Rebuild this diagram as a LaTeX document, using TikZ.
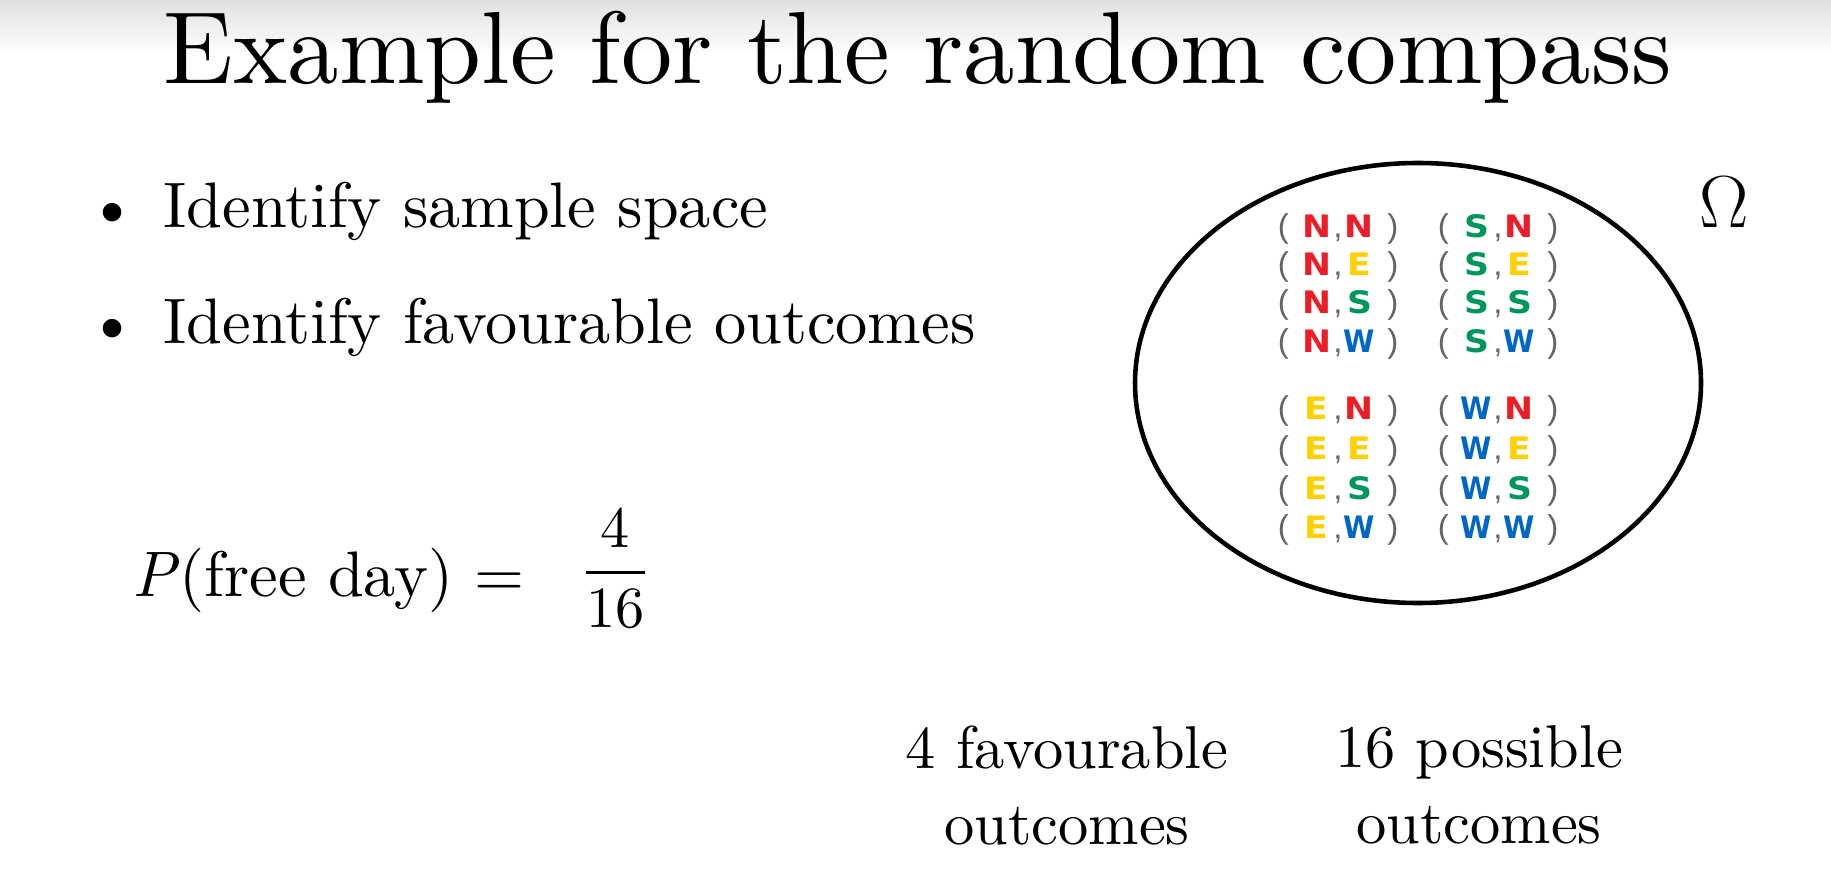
\RequirePackage{fix-cm}
\documentclass[tikz,border=0pt]{standalone}
\usepackage{amsmath}
\usepackage{graphicx}
\usepackage{fontspec}
\setmainfont{lmroman10-regular.otf}[
    ItalicFont=lmroman10-italic.otf,
    BoldFont=lmroman10-bold.otf]
\newfontfamily\compassfont{DejaVu Sans}[FakeStretch=1.12]
\newfontfamily\parenfont{Liberation Sans}
\usepackage{xcolor}
\definecolor{compass-n}{RGB}{235,30,40}
\definecolor{compass-e}{RGB}{255,208,0}
\definecolor{compass-s}{RGB}{0,150,92}
\definecolor{compass-w}{RGB}{0,102,200}
\definecolor{paren-gray}{RGB}{100,100,100}
\usepackage{tikz}
\usetikzlibrary{shapes.geometric,positioning}

% Compass letters and outcome pairs
\newcommand{\pmark}[1]{{\parenfont\mdseries\fontsize{9.4}{11}\selectfont\color{paren-gray}#1}}
\newcommand{\dirN}{\makebox[8.6pt]{\textcolor{compass-n}{N}}}
\newcommand{\dirE}{\makebox[8.6pt]{\textcolor{compass-e}{E}}}
\newcommand{\dirS}{\makebox[8.6pt]{\textcolor{compass-s}{S}}}
\newcommand{\dirW}{\makebox[8.6pt]{\textcolor{compass-w}{\scalebox{0.82}[1]{W}}}}
\newcommand{\pair}[2]{\pmark{(}\hspace{3.6pt}#1\hspace{0.5pt}\pmark{,}\hspace{0.5pt}#2\hspace{3.6pt}\pmark{)}}

\begin{document}
\begin{tikzpicture}[
    every node/.style={inner sep=0pt},
    body/.style={font=\fontsize{18.3}{22}\selectfont},
    outcome/.style={font=\compassfont\bfseries\fontsize{8.8}{11}\selectfont, anchor=base}
]

% Canvas
\useasboundingbox (0,0) rectangle (18.31,-8.90);
\shade[top color=black!12, bottom color=white] (0,0) rectangle (18.31,-0.55);

% Title
\node[font=\fontsize{29.2}{35}\selectfont, anchor=base west] (title) at (1.63,-0.84)
    {Example for the random compass};

% Steps
\node[body, anchor=base west] (item1) at (1.63,-2.28) {Identify sample space};
\node[body, anchor=base west] (item2) at (1.63,-3.44) {Identify favourable outcomes};
\node[body, anchor=base] (dot1) at ([xshift=-0.5cm]item1.base west) {\textbullet};
\node[body, anchor=base] (dot2) at ([xshift=-0.5cm]item2.base west) {\textbullet};

% Probability
\node[body, anchor=base west] (prob) at (1.32,-5.96) {\textit{P}(free day) =};
\node[font=\fontsize{16.6}{19}\selectfont, base right=0.56cm of prob, yshift=0.09cm] (ratio)
    {$\dfrac{\text{4}}{\text{16}}$};

% Sample space
\node[
    draw,
    ellipse,
    line width=1.3pt,
    minimum width=5.66cm,
    minimum height=4.40cm
] (space) at (14.18,-3.83) {};
\node[font=\fontsize{21}{25}\selectfont, anchor=base] (omega)
    at ([xshift=0.21cm, yshift=1.55cm]space.east) {$\Omega$};

% First letter N and E
\node[outcome] (nn) at ([xshift=-0.8cm, yshift=1.45cm]space.center) {\pair{\dirN}{\dirN}};
\node[outcome] (ne) at ([xshift=-0.8cm, yshift=1.07cm]space.center) {\pair{\dirN}{\dirE}};
\node[outcome] (ns) at ([xshift=-0.8cm, yshift=0.69cm]space.center) {\pair{\dirN}{\dirS}};
\node[outcome] (nw) at ([xshift=-0.8cm, yshift=0.30cm]space.center) {\pair{\dirN}{\dirW}};
\node[outcome] (en) at ([xshift=-0.8cm, yshift=-0.37cm]space.center) {\pair{\dirE}{\dirN}};
\node[outcome] (ee) at ([xshift=-0.8cm, yshift=-0.77cm]space.center) {\pair{\dirE}{\dirE}};
\node[outcome] (es) at ([xshift=-0.8cm, yshift=-1.17cm]space.center) {\pair{\dirE}{\dirS}};
\node[outcome] (ew) at ([xshift=-0.8cm, yshift=-1.55cm]space.center) {\pair{\dirE}{\dirW}};

% First letter S and W
\node[outcome] (sn) at ([xshift=0.8cm, yshift=1.45cm]space.center) {\pair{\dirS}{\dirN}};
\node[outcome] (se) at ([xshift=0.8cm, yshift=1.07cm]space.center) {\pair{\dirS}{\dirE}};
\node[outcome] (ss) at ([xshift=0.8cm, yshift=0.69cm]space.center) {\pair{\dirS}{\dirS}};
\node[outcome] (sw) at ([xshift=0.8cm, yshift=0.30cm]space.center) {\pair{\dirS}{\dirW}};
\node[outcome] (wn) at ([xshift=0.8cm, yshift=-0.37cm]space.center) {\pair{\dirW}{\dirN}};
\node[outcome] (we) at ([xshift=0.8cm, yshift=-0.77cm]space.center) {\pair{\dirW}{\dirE}};
\node[outcome] (ws) at ([xshift=0.8cm, yshift=-1.17cm]space.center) {\pair{\dirW}{\dirS}};
\node[outcome] (ww) at ([xshift=0.8cm, yshift=-1.55cm]space.center) {\pair{\dirW}{\dirW}};

% Counts
\node[font=\fontsize{17.2}{21.6}\selectfont, align=center, anchor=north] (favourable)
    at (10.67,-7.25) {4 favourable\\outcomes};
\node[font=\fontsize{17.2}{21.6}\selectfont, align=center, anchor=north] (possible)
    at (14.79,-7.25) {16 possible\\outcomes};

\end{tikzpicture}
\end{document}
